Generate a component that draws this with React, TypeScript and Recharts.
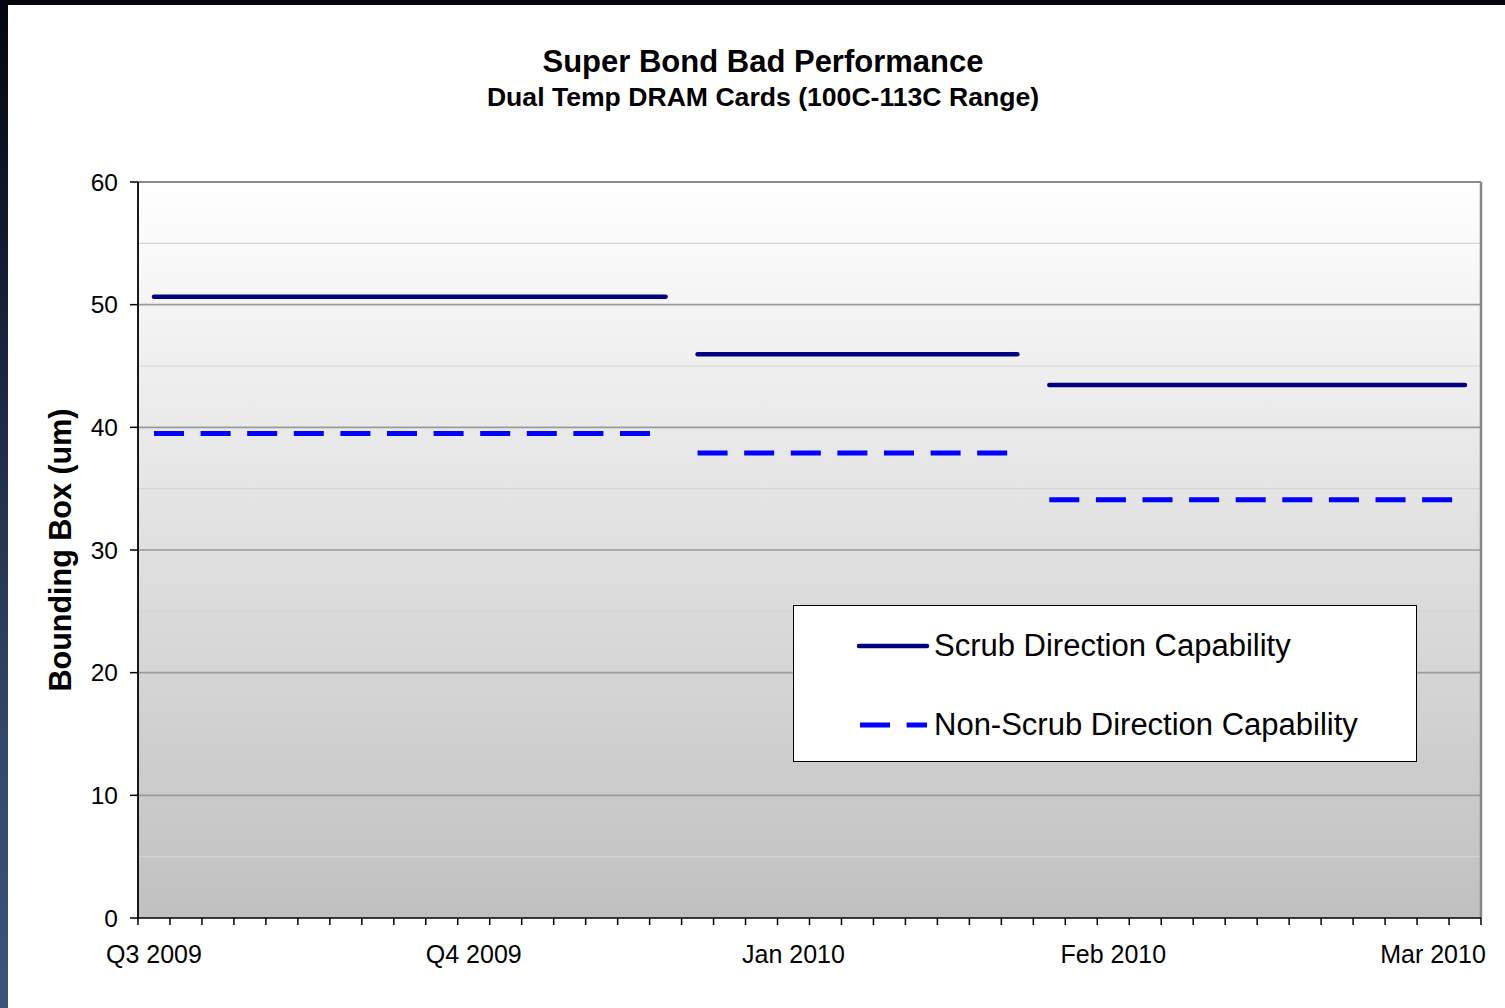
import React from "react";
import {
  LineChart,
  Line,
  XAxis,
  YAxis,
  ReferenceLine,
  ReferenceArea,
} from "recharts";

// ---------- data ----------
const CATEGORY_COUNT = 42;
const xLabels = ["Q3 2009", "Q4 2009", "Jan 2010", "Feb 2010", "Mar 2010"];
const xLabelPositions = [0, 10, 20, 30, 40];
const segmentStarts = [0, 17, 28];
const segmentEnds = [16, 27, 41];
const scrubValues = [50.65, 45.95, 43.45];
const nonScrubValues = [39.5, 37.9, 34.1];
const yMajorTicks = [0, 10, 20, 30, 40, 50, 60];
const yMinorTicks = [5, 15, 25, 35, 45, 55];

const SCRUB_NAME = "Scrub Direction Capability";
const NON_SCRUB_NAME = "Non-Scrub Direction Capability";

const rows: Record<string, number>[] = [];
for (let i = 0; i < CATEGORY_COUNT; i++) {
  const row: Record<string, number> = { x: i };
  for (let s = 0; s < segmentStarts.length; s++) {
    if (i >= segmentStarts[s] && i <= segmentEnds[s]) {
      row[`scrub${s}`] = scrubValues[s];
      row[`non${s}`] = nonScrubValues[s];
    }
  }
  rows.push(row);
}

const boundaryTicks: number[] = [];
for (let i = 0; i <= CATEGORY_COUNT; i++) boundaryTicks.push(i - 0.5);
const xTicks = [...boundaryTicks, ...xLabelPositions].sort((a, b) => a - b);

const FONT = "'Liberation Sans', Arial, Helvetica, sans-serif";
const SCRUB_COLOR = "#000080";
const NON_COLOR = "#0000FF";
const DASH = "30 16.6";

const legendItems = [
  { name: SCRUB_NAME, color: SCRUB_COLOR, dashed: false },
  { name: NON_SCRUB_NAME, color: NON_COLOR, dashed: true },
];

const XTick = (props: any) => {
  const { x, y, payload } = props;
  const v = payload.value;
  const idx = xLabelPositions.indexOf(v);
  if (idx >= 0) {
    return (
      <text
        x={x}
        y={y + 45}
        textAnchor="middle"
        fontSize={25}
        fontFamily={FONT}
        fill="#000"
      >
        {xLabels[idx]}
      </text>
    );
  }
  return <line x1={x} x2={x} y1={y} y2={y + 7} stroke="#000" strokeWidth={1.5} />;
};

const LegendBox = () => (
  <div
    style={{
      position: "absolute",
      left: 793,
      top: 605,
      width: 622,
      height: 155,
      background: "#fff",
      border: "1px solid #000",
    }}
  >
    <svg width={622} height={155} style={{ display: "block" }}>
      {legendItems.map((p, i) => {
        const cy = 40 + i * 79;
        return (
          <g key={p.name}>
            <line
              x1={p.dashed ? 66 : 65}
              x2={133}
              y1={cy}
              y2={cy}
              stroke={p.color}
              strokeWidth={p.dashed ? 5 : 4.5}
              strokeDasharray={p.dashed ? DASH : undefined}
              strokeLinecap={p.dashed ? "butt" : "round"}
            />
            <text x={140} y={cy + 10} fontSize={31} fontFamily={FONT} fill="#000">
              {p.name}
            </text>
          </g>
        );
      })}
    </svg>
  </div>
);

export default function App() {
  return (
    <div
      style={{
        position: "fixed",
        left: 0,
        top: 0,
        width: 1505,
        height: 1008,
        background:
          "linear-gradient(to bottom, #03060d 0%, #111c30 25%, #22334f 50%, #33496b 75%, #3b5478 100%)",
        overflow: "hidden",
      }}
    >
      <div
        style={{
          position: "absolute",
          left: 8,
          top: 5,
          width: 1497,
          height: 1003,
          background: "#fff",
        }}
      />
      <svg
        width={1505}
        height={1008}
        style={{ position: "absolute", left: 0, top: 0 }}
      >
        <text
          x={763}
          y={72}
          textAnchor="middle"
          fontSize={31}
          fontWeight="bold"
          fontFamily={FONT}
          fill="#000"
        >
          Super Bond Bad Performance
        </text>
        <text
          x={763}
          y={106}
          textAnchor="middle"
          fontSize={26.6}
          fontWeight="bold"
          fontFamily={FONT}
          fill="#000"
        >
          Dual Temp DRAM Cards (100C-113C Range)
        </text>
        <text
          transform="translate(71,550) rotate(-90)"
          textAnchor="middle"
          fontSize={30.5}
          fontWeight="bold"
          fontFamily={FONT}
          fill="#000"
        >
          Bounding Box (um)
        </text>
      </svg>
      <div style={{ position: "absolute", left: 0, top: 0 }}>
        <LineChart
          width={1505}
          height={1008}
          data={rows}
          margin={{ top: 182, right: 24, bottom: 30, left: 38 }}
        >
          <defs>
            <linearGradient id="plotBg" x1="0" y1="0" x2="0" y2="1">
              <stop offset="0%" stopColor="#ffffff" />
              <stop offset="100%" stopColor="#c0c0c0" />
            </linearGradient>
          </defs>
          <XAxis
            dataKey="x"
            type="number"
            domain={[-0.5, CATEGORY_COUNT - 0.5]}
            ticks={xTicks}
            interval={0}
            tickSize={0}
            tickMargin={0}
            tickLine={false}
            tick={<XTick />}
            height={60}
            axisLine={{ stroke: "#000", strokeWidth: 1.6 }}
            allowDataOverflow
          />
          <YAxis
            type="number"
            domain={[0, 60]}
            ticks={yMajorTicks}
            interval={0}
            width={100}
            tickSize={8}
            tickMargin={12}
            tick={{ fill: "#000", fontSize: 24.5, fontFamily: FONT }}
            tickLine={{ stroke: "#000", strokeWidth: 1.5 }}
            axisLine={{ stroke: "#000", strokeWidth: 1.8 }}
          />
          <ReferenceArea
            x1={-0.5}
            x2={CATEGORY_COUNT - 0.5}
            y1={0}
            y2={60}
            fill="url(#plotBg)"
            fillOpacity={1}
            stroke="none"
          />
          {yMinorTicks.map((v) => (
            <ReferenceLine
              key={`minor${v}`}
              y={v}
              stroke="#d4d4d4"
              strokeWidth={1.2}
            />
          ))}
          {yMajorTicks.slice(1, -1).map((v) => (
            <ReferenceLine
              key={`major${v}`}
              y={v}
              stroke="#9a9a9a"
              strokeWidth={1.6}
            />
          ))}
          <ReferenceLine y={60} stroke="#8a8a8a" strokeWidth={2} />
          <ReferenceLine
            x={CATEGORY_COUNT - 0.5}
            stroke="#868686"
            strokeWidth={2.5}
          />
          {segmentStarts.map((_, s) => (
            <Line
              key={`non${s}`}
              dataKey={`non${s}`}
              name={NON_SCRUB_NAME}
              stroke={NON_COLOR}
              strokeWidth={5}
              strokeDasharray={DASH}
              strokeLinecap="butt"
              dot={false}
              activeDot={false}
              isAnimationActive={false}
            />
          ))}
          {segmentStarts.map((_, s) => (
            <Line
              key={`scrub${s}`}
              dataKey={`scrub${s}`}
              name={SCRUB_NAME}
              stroke={SCRUB_COLOR}
              strokeWidth={4.5}
              strokeLinecap="round"
              dot={false}
              activeDot={false}
              isAnimationActive={false}
            />
          ))}
        </LineChart>
      </div>
      <LegendBox />
    </div>
  );
}
